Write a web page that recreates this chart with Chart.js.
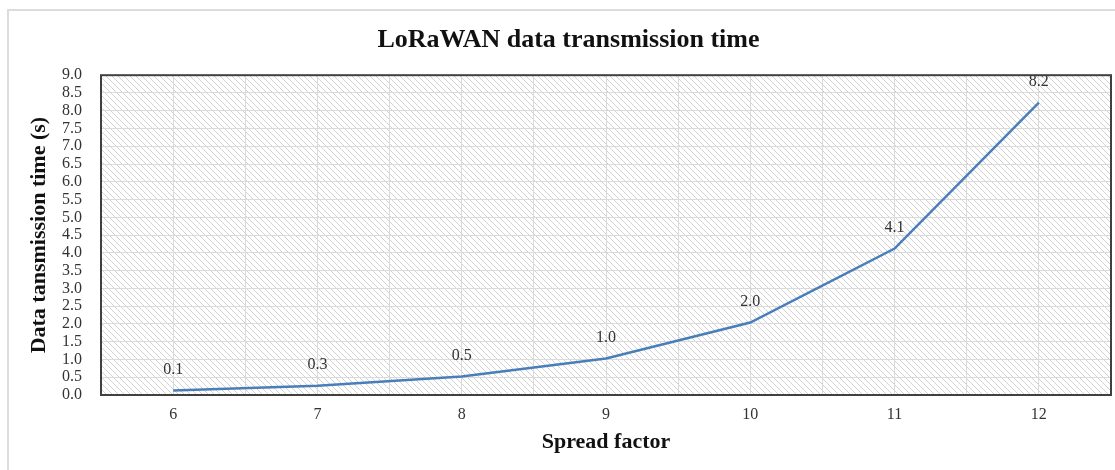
<!DOCTYPE html>
<html>
<head>
<meta charset="utf-8">
<script src="https://cdn.jsdelivr.net/npm/chart.js@4.4.1/dist/chart.umd.min.js"></script>
<style>
  html, body { margin: 0; padding: 0; background: #fff; }
  #wrap { position: relative; width: 1115px; height: 470px; }
</style>
</head>
<body>
<div id="wrap"><canvas id="c" width="1115" height="470"></canvas></div>
<script>
const spreadFactors = [6, 7, 8, 9, 10, 11, 12];
const transmissionTimes = [0.13, 0.26, 0.52, 1.03, 2.04, 4.12, 8.23];
const dataLabels = ['0.1', '0.3', '0.5', '1.0', '2.0', '4.1', '8.2'];
const yTickMax = 9;
const yTickStep = 0.5;

const SERIF = '"Liberation Serif", "Times New Roman", serif';

function makeHatch() {
  const p = document.createElement('canvas');
  p.width = 6; p.height = 6;
  const g = p.getContext('2d');
  g.fillStyle = '#ffffff';
  g.fillRect(0, 0, 6, 6);
  g.strokeStyle = '#d2d2d2';
  g.lineWidth = 1;
  g.beginPath();
  g.moveTo(-1, -1); g.lineTo(7, 7);
  g.moveTo(-1, 5); g.lineTo(1, 7);
  g.moveTo(5, -1); g.lineTo(7, 1);
  g.stroke();
  return p;
}

const hatchPlugin = {
  id: 'hatch',
  beforeDraw(chart) {
    const { ctx, chartArea: a } = chart;
    ctx.save();
    ctx.strokeStyle = '#dcdcdc';
    ctx.lineWidth = 2;
    ctx.strokeRect(8, 10, 1125, 480);
    ctx.fillStyle = ctx.createPattern(makeHatch(), 'repeat');
    ctx.fillRect(a.left, a.top, a.right - a.left, a.bottom - a.top);
    ctx.restore();
  },
  afterDraw(chart) {
    const { ctx, chartArea: a } = chart;
    ctx.save();
    ctx.strokeStyle = '#404040';
    ctx.lineWidth = 2;
    ctx.strokeRect(a.left, a.top, a.right - a.left, a.bottom - a.top);
    ctx.restore();
  }
};

const labelPlugin = {
  id: 'valueLabels',
  afterDatasetsDraw(chart) {
    const { ctx } = chart;
    const meta = chart.getDatasetMeta(0);
    ctx.save();
    ctx.font = '16px ' + SERIF;
    ctx.fillStyle = '#333333';
    ctx.textAlign = 'center';
    ctx.textBaseline = 'middle';
    meta.data.forEach((pt, i) => {
      ctx.fillText(dataLabels[i], pt.x, pt.y - 21);
    });
    ctx.restore();
  }
};

new Chart(document.getElementById('c'), {
  type: 'line',
  data: {
    datasets: [{
      data: spreadFactors.map((x, i) => ({ x: x, y: transmissionTimes[i] })),
      borderColor: '#4a7ebb',
      borderWidth: 2.5,
      pointRadius: 0,
      tension: 0,
      fill: false
    }]
  },
  options: {
    responsive: false,
    animation: false,
    layout: { padding: { left: 26, right: 4, top: 0, bottom: 0 } },
    plugins: {
      legend: { display: false },
      tooltip: { enabled: false },
      title: {
        display: true,
        text: 'LoRaWAN data transmission time',
        color: '#111111',
        font: { family: SERIF, size: 26, weight: 'bold' },
        padding: { top: 25, bottom: 19 }
      }
    },
    scales: {
      x: {
        type: 'linear',
        min: spreadFactors[0] - 0.5,
        max: spreadFactors[spreadFactors.length - 1] + 0.5,
        afterBuildTicks(scale) {
          const t = [];
          for (let v = scale.min; v <= scale.max + 1e-9; v += 0.5) t.push({ value: Math.round(v * 2) / 2 });
          scale.ticks = t;
        },
        afterFit(scale) { scale.height = 75; scale.paddingLeft = 0; scale.paddingRight = 0; },
        grid: { color: '#dadada', lineWidth: 1, drawTicks: false },
        border: { display: false },
        ticks: {
          autoSkip: false,
          maxRotation: 0,
          padding: 10,
          color: '#333333',
          font: { family: SERIF, size: 16 },
          callback: (v) => spreadFactors.includes(v) ? String(v) : ''
        },
        title: {
          display: true,
          text: 'Spread factor',
          color: '#111111',
          font: { family: SERIF, size: 22, weight: 'bold' },
          padding: { top: 0, bottom: 14 }
        }
      },
      y: {
        min: 0,
        max: yTickMax,
        afterFit(scale) { scale.width = 75; },
        afterBuildTicks(scale) {
          const t = [];
          for (let v = 0; v <= yTickMax + 1e-9; v += yTickStep) t.push({ value: Math.round(v * 2) / 2 });
          scale.ticks = t;
        },
        grid: { color: '#dadada', lineWidth: 1, drawTicks: false },
        border: { display: false },
        ticks: {
          autoSkip: false,
          padding: 19,
          color: '#333333',
          font: { family: SERIF, size: 16, lineHeight: 1 },
          callback: (v) => v.toFixed(1)
        },
        title: {
          display: true,
          text: 'Data tansmission time (s)',
          color: '#111111',
          font: { family: SERIF, size: 22, weight: 'bold' },
          padding: { top: 0, bottom: 0, left: 0, right: 0 }
        }
      }
    }
  },
  plugins: [hatchPlugin, labelPlugin]
});
</script>
</body>
</html>
